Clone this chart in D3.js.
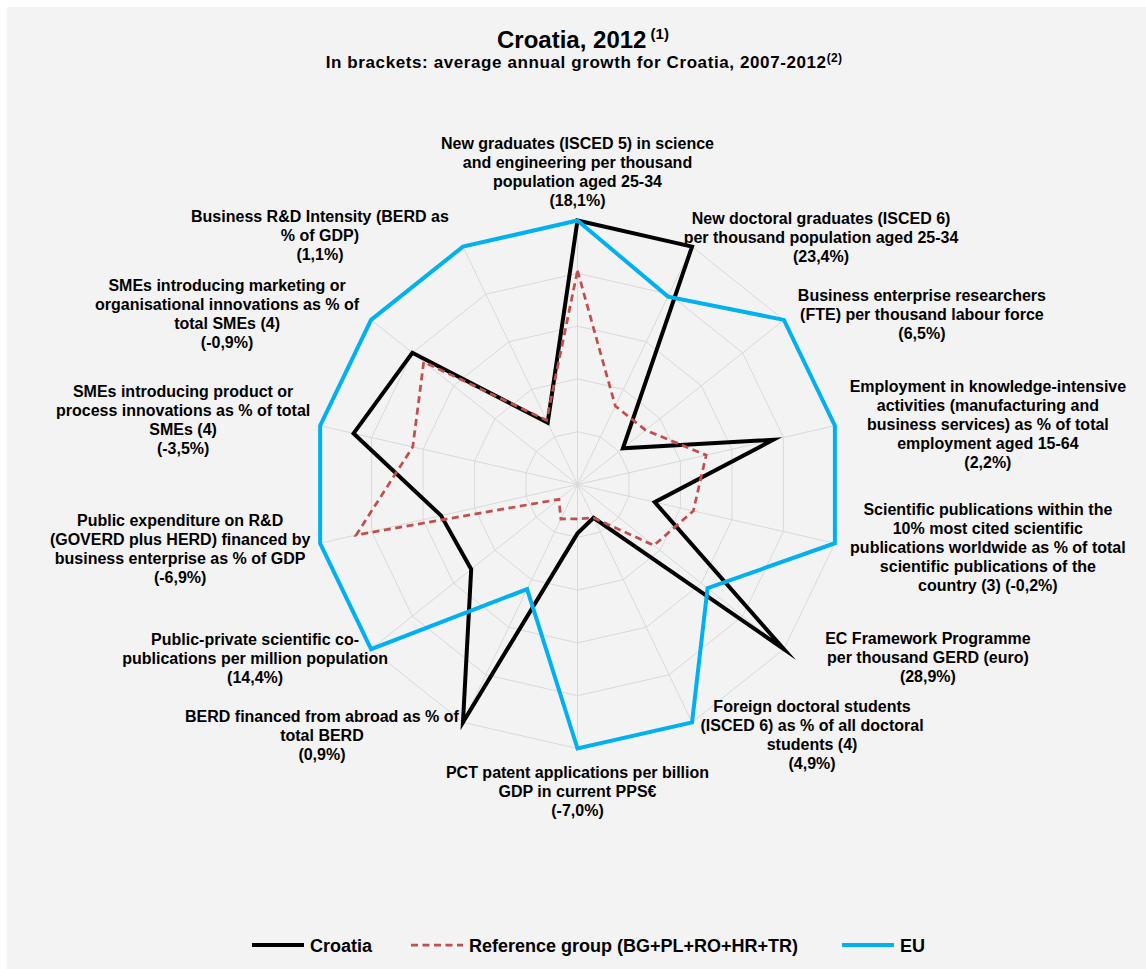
<!DOCTYPE html>
<html><head><meta charset="utf-8">
<script src="https://cdn.jsdelivr.net/npm/d3@7"></script>
<style>
body{margin:0;background:#fff;}
svg text{font-family:"Liberation Sans",Arial,sans-serif;font-weight:bold;fill:#000;}
</style></head>
<body>
<svg id="chart" width="1146" height="969"></svg>
<script>
// ---- data ----
const categories = [
  ["New graduates (ISCED 5) in science","and engineering per thousand","population aged 25-34","(18,1%)"],
  ["New doctoral graduates (ISCED 6)","per thousand population aged 25-34","(23,4%)"],
  ["Business enterprise researchers","(FTE) per thousand labour force","(6,5%)"],
  ["Employment in knowledge-intensive","activities (manufacturing and","business services) as % of total","employment aged 15-64","(2,2%)"],
  ["Scientific publications within the","10% most cited scientific","publications worldwide as % of total","scientific publications of the","country (3) (-0,2%)"],
  ["EC Framework Programme","per thousand GERD (euro)","(28,9%)"],
  ["Foreign doctoral students","(ISCED 6) as % of all doctoral","students (4)","(4,9%)"],
  ["PCT patent applications per billion","GDP in current PPS\u20ac","(-7,0%)"],
  ["BERD financed from abroad as % of","total BERD","(0,9%)"],
  ["Public-private scientific co-","publications per million population","(14,4%)"],
  ["Public expenditure on R&D","(GOVERD plus HERD) financed by","business enterprise as % of GDP","(-6,9%)"],
  ["SMEs introducing product or","process innovations as % of total","SMEs (4)","(-3,5%)"],
  ["SMEs introducing marketing or","organisational innovations as % of","total SMEs (4)","(-0,9%)"],
  ["Business R&D Intensity (BERD as","% of GDP)","(1,1%)"]
];
const croatia   = [100, 100, 22, 76, 30, 100, 14, 18.5, 100, 51.5, 53, 87, 80, 26];
const refGroup  = [81, 33, 33, 50, 45, 37, 14, 13, 14.5, 9, 86, 64, 74.5, 27];
const eu        = [100, 79, 100, 100, 100, 63, 100, 100, 44, 100, 100, 100, 100, 100];
const gridTicks = [20, 40, 60, 80, 100];
const seriesNames = ["Croatia", "Reference group (BG+PL+RO+HR+TR)", "EU"];

// ---- layout (label offsets from spoke end) ----
const labelOffsets = [[0,-77.5],[129,-28.6],[138,-24],[153,-39],[153,-34],[144,-11],[120,-16],
  [0,23.5],[-141,-6],[-116,-10],[-140,-23],[-137,-34],[-144,-34],[-143,-30]];

const W = 1146, H = 969, cx = 577.5, cy = 484.5, R = 264;
const svg = d3.select("#chart");
svg.append("rect").attr("x",7).attr("y",7).attr("width",W-7).attr("height",H-7).attr("fill","#f3f3f3");

const n = categories.length;
const ang = d3.scaleLinear().domain([0, n]).range([0, 2*Math.PI]);
const r = d3.scaleLinear().domain([0, 100]).range([0, R]);
const pt = (i, v) => [cx + r(v)*Math.sin(ang(i)), cy - r(v)*Math.cos(ang(i))];

const g = svg.append("g");
// grid rings
gridTicks.forEach(t => {
  g.append("path").attr("d", d3.line()(d3.range(n).map(i => pt(i, t))) + "Z")
    .attr("fill","none").attr("stroke","#d9d9d9").attr("stroke-width",1);
});
// spokes
d3.range(n).forEach(i => {
  const p = pt(i, 100);
  g.append("line").attr("x1",cx).attr("y1",cy).attr("x2",p[0]).attr("y2",p[1])
    .attr("stroke","#d9d9d9").attr("stroke-width",1);
});

const radial = d3.lineRadial().angle((d,i)=>ang(i)).radius(d=>r(d)).curve(d3.curveLinearClosed);
const series = [
  {vals: croatia, color:"#000000", width:4, dash:null},
  {vals: refGroup, color:"#c0504d", width:2.75, dash:"7,4.5"},
  {vals: eu, color:"#00b0f0", width:4, dash:null}
];
series.forEach(s => {
  g.append("path").attr("transform",`translate(${cx},${cy})`).attr("d", radial(s.vals))
    .attr("fill","none").attr("stroke",s.color).attr("stroke-width",s.width)
    .attr("stroke-dasharray",s.dash).attr("stroke-linejoin","miter").attr("stroke-miterlimit",10);
});

// category labels
categories.forEach((lines, i) => {
  const p = pt(i, 100);
  const x = p[0] + labelOffsets[i][0], y0 = p[1] + labelOffsets[i][1];
  const t = svg.append("text").attr("text-anchor","middle").attr("font-size",16);
  lines.forEach((ln, k) => {
    t.append("tspan").attr("x", x).attr("y", y0 + k*19 + 5.5).text(ln);
  });
});

// title
const title = svg.append("text").attr("x",583).attr("y",48).attr("text-anchor","middle").attr("font-size",24);
title.append("tspan").text("Croatia, 2012");
title.append("tspan").attr("font-size",15).attr("dy",-9).text(" (1)");
const sub = svg.append("text").attr("x",584).attr("y",68).attr("text-anchor","middle")
  .attr("font-size",17).attr("letter-spacing",0.6);
sub.append("tspan").text("In brackets: average annual growth for Croatia, 2007-2012");
sub.append("tspan").attr("font-size",12).attr("dy",-6).attr("letter-spacing",0.3).text("(2)");

// legend
const legX = [252, 411, 842];
series.forEach((s, i) => {
  const lg = svg.append("g").attr("transform",`translate(${legX[i]},945)`);
  lg.append("line").attr("x1",0).attr("x2",52).attr("y1",0).attr("y2",0)
    .attr("stroke",s.color).attr("stroke-width",s.width).attr("stroke-dasharray",s.dash);
  lg.append("text").attr("x",58).attr("y",6.5).attr("font-size",18).text(seriesNames[i]);
});
</script>
</body></html>
